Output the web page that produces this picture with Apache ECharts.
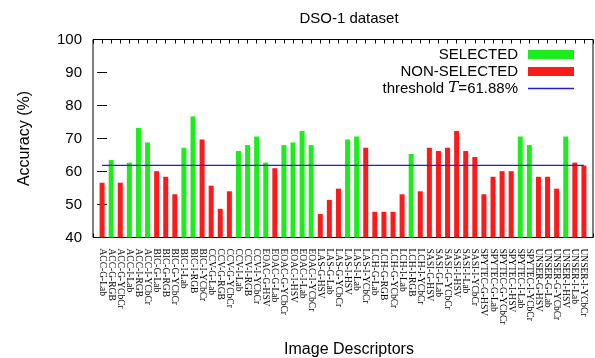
<!DOCTYPE html>
<html>
<head>
<meta charset="utf-8">
<script src="https://cdn.jsdelivr.net/npm/echarts@6/dist/echarts.min.js"></script>
<style>
  html, body { margin: 0; padding: 0; background: #fff; }
  #chart { width: 595px; height: 358px; }
</style>
</head>
<body>
<div id="chart"></div>
<script>
// descriptors, in plot order
var categories = [
  'ACC-G-Lab', 'ACC-G-RGB', 'ACC-G-YCbCr', 'ACC-I-Lab', 'ACC-I-RGB', 'ACC-I-YCbCr',
  'BIC-G-Lab', 'BIC-G-RGB', 'BIC-G-YCbCr', 'BIC-I-Lab', 'BIC-I-RGB', 'BIC-I-YCbCr',
  'CCV-G-Lab', 'CCV-G-RGB', 'CCV-G-YCbCr', 'CCV-I-Lab', 'CCV-I-RGB', 'CCV-I-YCbCr',
  'EOAC-G-HSV', 'EOAC-G-Lab', 'EOAC-G-YCbCr', 'EOAC-I-HSV', 'EOAC-I-Lab', 'EOAC-I-YCbCr',
  'LAS-G-HSV', 'LAS-G-Lab', 'LAS-G-YCbCr', 'LAS-I-HSV', 'LAS-I-Lab', 'LAS-I-YCbCr',
  'LCH-G-Lab', 'LCH-G-RGB', 'LCH-G-YCbCr', 'LCH-I-Lab', 'LCH-I-RGB', 'LCH-I-YCbCr',
  'SASI-G-HSV', 'SASI-G-Lab', 'SASI-G-YCbCr', 'SASI-I-HSV', 'SASI-I-Lab', 'SASI-I-YCbCr',
  'SPYTEC-G-HSV', 'SPYTEC-G-Lab', 'SPYTEC-G-YCbCr', 'SPYTEC-I-HSV', 'SPYTEC-I-Lab', 'SPYTEC-I-YCbCr',
  'UNSER-G-HSV', 'UNSER-G-Lab', 'UNSER-G-YCbCr', 'UNSER-I-HSV', 'UNSER-I-Lab', 'UNSER-I-YCbCr'
]

var accuracy = [
  56.6, 63.5, 56.6, 62.7, 73.2, 68.8,
  60.1, 58.4, 53.1, 67.2, 76.7, 69.7,
  55.7, 48.7, 54.0, 66.2, 68.0, 70.6,
  62.7, 61.0, 68.0, 68.8, 72.3, 68.0,
  47.1, 51.4, 54.8, 69.7, 70.6, 67.2,
  47.8, 47.8, 47.8, 53.1, 65.3, 54.0,
  67.2, 66.2, 67.2, 72.3, 66.2, 64.4,
  53.1, 58.4, 60.1, 60.1, 70.6, 68.0,
  58.4, 58.4, 54.8, 70.6, 62.7, 61.8
]

// 1 = SELECTED, 0 = NON-SELECTED
var selected = [
  0, 1, 0, 1, 1, 1,
  0, 0, 0, 1, 1, 0,
  0, 0, 0, 1, 1, 1,
  1, 0, 1, 1, 1, 1,
  0, 0, 0, 1, 1, 0,
  0, 0, 0, 0, 1, 0,
  0, 0, 0, 0, 0, 0,
  0, 0, 0, 0, 1, 1,
  0, 0, 0, 1, 0, 0
]

var threshold = 61.88
var yTicks = [40, 50, 60, 70, 80, 90, 100]

var selData = []
var nonData = []
accuracy.forEach(function (v, i) {
  if (selected[i]) selData.push([i, v])
  else nonData.push([i, v])
})

var sans = 'Liberation Sans'
var green = '#1bef1b', red = '#ff1a1a', blue = '#2020c8'
var chart = echarts.init(document.getElementById('chart'))

var xBase = {
  type: 'value',
  min: -1,
  max: categories.length,
  interval: 1,
  splitLine: { show: false },
  axisLine: { show: false },
  axisTick: { show: true, inside: true, length: 4, lineStyle: { color: '#000' } }
}
var yBase = {
  type: 'value',
  min: yTicks[0],
  max: yTicks[yTicks.length - 1],
  interval: 10,
  splitLine: { show: false },
  axisLine: { show: false },
  axisTick: { show: true, inside: true, length: 5, lineStyle: { color: '#000' } }
}

chart.setOption({
  animation: false,
  // chart title + x axis name (the axis name kept being pushed below the labels)
  title: [
    {
      text: 'DSO-1 dataset',
      left: 344,
      textAlign: 'center',
      top: 6,
      textStyle: { fontFamily: sans, fontSize: 15, fontWeight: 'normal', color: '#000' }
    },
    {
      text: 'Image Descriptors',
      left: 344,
      textAlign: 'center',
      top: 337,
      textStyle: { fontFamily: sans, fontSize: 16, fontWeight: 'normal', color: '#000' }
    }
  ],
  grid: {
    left: 93, right: 2, top: 39.5, bottom: 120.5,
    outerBoundsMode: 'none',
    containLabel: false,
    show: true, borderColor: '#000', borderWidth: 1
  },
  legend: {
    orient: 'vertical',
    right: 16,
    top: 42,
    align: 'right',
    itemWidth: 46,
    itemHeight: 9,
    itemGap: 2,
    symbolKeepAspect: true,
    data: [
      { name: 'SELECTED', icon: 'rect' },
      { name: 'NON-SELECTED', icon: 'rect' },
      { name: 'threshold', icon: 'path://M0,0H46V1.3H0Z' }
    ],
    formatter: function (name) {
      if (name === 'threshold') return 'threshold {t|T}=' + threshold.toFixed(2) + '%'
      return name
    },
    textStyle: {
      fontFamily: sans, fontSize: 15, color: '#000', padding: [0, 5, 0, 0],
      rich: { t: { fontFamily: 'DejaVu Serif', fontStyle: 'italic', fontSize: 15, color: '#000' } }
    }
  },
  xAxis: [
    Object.assign({}, xBase, {
      position: 'bottom',
      axisLabel: {
        rotate: -90,
        margin: 11,
        fontFamily: 'Liberation Serif',
        fontSize: 9.5,
        color: '#000',
        formatter: function (v) { return categories[v] || '' }
      }
    }),
    Object.assign({}, xBase, { position: 'top', axisLabel: { show: false } })
  ],
  yAxis: [
    Object.assign({}, yBase, {
      position: 'left',
      name: 'Accuracy (%)',
      nameLocation: 'middle',
      nameGap: 60,
      nameRotate: 90,
      nameTextStyle: { fontFamily: sans, fontSize: 16, color: '#000' },
      axisLabel: { margin: 11, fontFamily: sans, fontSize: 15, color: '#000' }
    }),
    Object.assign({}, yBase, { position: 'right', axisLabel: { show: false } })
  ],
  series: [
    {
      name: 'SELECTED', type: 'bar', barWidth: 5, barGap: '-100%',
      itemStyle: { color: green }, data: selData
    },
    {
      name: 'NON-SELECTED', type: 'bar', barWidth: 5, barGap: '-100%',
      itemStyle: { color: red }, data: nonData
    },
    {
      name: 'threshold', type: 'line', symbol: 'none',
      lineStyle: { color: blue, width: 1.3 },
      itemStyle: { color: blue },
      data: [[0, threshold], [categories.length - 1, threshold]]
    }
  ]
})
</script>
</body>
</html>
